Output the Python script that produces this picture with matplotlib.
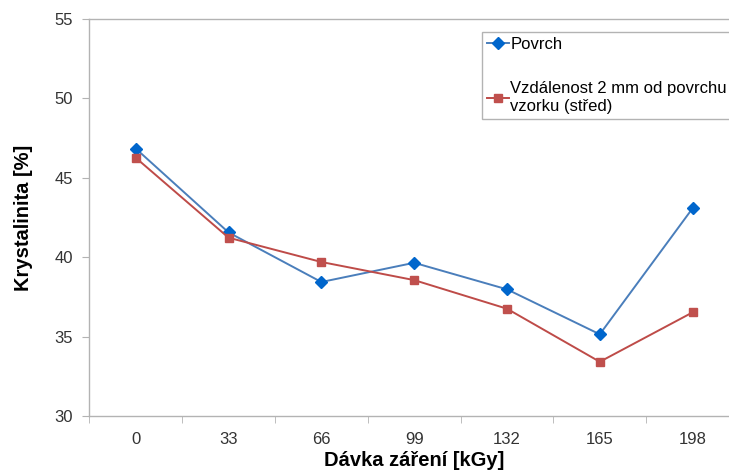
import numpy as np
import matplotlib
matplotlib.use('Agg')
import matplotlib.pyplot as plt

plt.rcParams['font.family'] = ['Liberation Sans', 'DejaVu Sans']

# dose categories [kGy]
doses = ['0', '33', '66', '99', '132', '165', '198']
# crystallinity [%]
povrch = [46.85, 41.57, 38.45, 39.66, 37.99, 35.16, 43.09]
stred = [46.27, 41.24, 39.71, 38.57, 36.77, 33.43, 36.54]

labels = ['Povrch', 'Vzdálenost 2 mm od povrchu\nvzorku (střed)']

grid_c = '#B3B3B3'
text_c = '#333333'

fig = plt.figure(figsize=(7.29, 4.72), dpi=100)
ax = fig.add_axes([89.3/729, 1 - 416.3/472, (739 - 89.3)/729, (416.3 - 19)/472])

x = np.arange(len(doses))
ax.plot(x, povrch, color='#4A7EBB', lw=1.4, marker='D', ms=6.5,
        mfc='#0066CC', mec='#0066CC', label=labels[0])
ax.plot(x, stred, color='#BE4B48', lw=1.4, marker='s', ms=6,
        mfc='#C0504D', mec='#C0504D', label=labels[1])

ax.set_xlim(-0.5, len(doses) - 0.5)
ax.set_ylim(30, 55)
ax.set_yticks(np.arange(30, 56, 5))

# category labels centered, tick marks between categories
ax.set_xticks(x)
ax.set_xticklabels(doses)
ax.set_xticks(np.arange(-0.5, len(doses), 1), minor=True)
ax.tick_params(axis='x', which='major', length=0, pad=11,
               labelsize=12, labelcolor=text_c)
ax.tick_params(axis='x', which='minor', length=5, color=grid_c, direction='out')
ax.tick_params(axis='y', length=5, color=grid_c, direction='out',
               labelsize=12, labelcolor=text_c, pad=7)

for side in ['left', 'bottom', 'top']:
    ax.spines[side].set_color(grid_c)
    ax.spines[side].set_linewidth(1.0)
ax.spines['right'].set_visible(False)

ax.set_ylabel('Krystalinita [%]', fontsize=14.5, fontweight='bold', labelpad=15)
ax.set_xlabel('Dávka záření [kGy]', fontsize=14.5, fontweight='bold', labelpad=3)

leg = fig.legend(loc='upper left', bbox_to_anchor=(482/729, 1 - 118.3/472, 270/729, 86/472),
                 mode='expand', fontsize=12, frameon=True, fancybox=False,
                 handlelength=1.3, handletextpad=0.1, labelspacing=1.75,
                 borderaxespad=0, borderpad=0.3)
leg.get_frame().set_edgecolor('#A0A0A0')
leg.get_frame().set_linewidth(1.0)

fig.savefig('out.png', dpi=100)
